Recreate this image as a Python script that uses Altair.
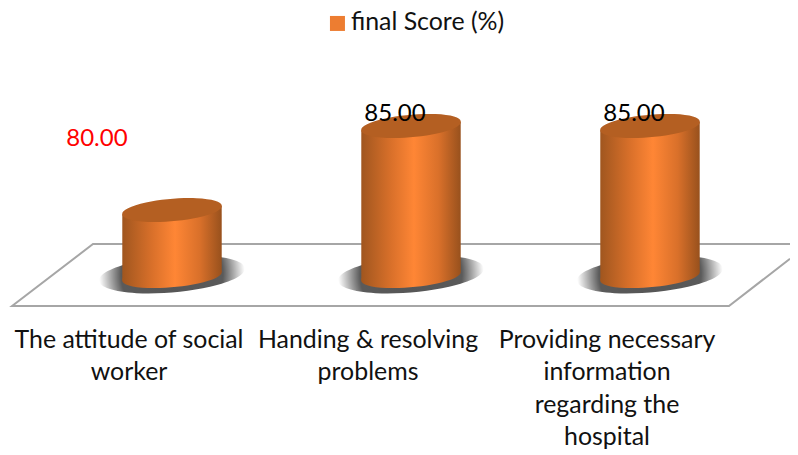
import altair as alt
import pandas as pd

categories = ["The attitude of social|worker", "Handing & resolving|problems",
              "Providing necessary|information|regarding the|hospital"]
scores = [80.0, 85.0, 85.0]
series_name = "final Score (%)"
baseline = 76.07
shadow_level = 76.16
tilt = 0.26
half_w = 0.208
positions = [0, 1, 2]

label_x = [-0.314, 0.933, 1.933]
label_y = [84.24, 85.74, 85.74]
label_txt = ["80.00", "85.00", "85.00"]

floor_x = [2.5858, 2.3305, -0.669, -0.3305, 2.5858]
floor_y = [77.1, 74.286, 74.286, 77.976, 77.976]

FONT = "Lato"
X_DOM = [-0.6862, 2.5858]
Y_DOM = [74.286, 92.024]
xq = alt.X("x:Q", scale=alt.Scale(domain=X_DOM, nice=False, zero=False), axis=None)
yq = alt.Y("y:Q", scale=alt.Scale(domain=Y_DOM, nice=False, zero=False), axis=None)

body_rows = []
for c, p, s in zip(categories, positions, scores):
    body_rows.append(dict(cat=c, x=p - half_w, y=s - tilt, y2=baseline - tilt))
    body_rows.append(dict(cat=c, x=p + half_w, y=s + tilt, y2=baseline + tilt))
body_df = pd.DataFrame(body_rows)
main_df = pd.DataFrame(dict(cat=categories, x=positions, y=scores, base=[baseline] * 3,
                            series=[series_name] * 3))
base_df = main_df.assign(y=[baseline] * 3)
shadow_df = main_df.assign(y=[shadow_level] * 3)
floor_df = pd.DataFrame(dict(x=floor_x, y=floor_y, o=range(len(floor_x))))

grad = alt.Gradient(gradient="linear", x1=0, x2=1, y1=0, y2=0, stops=[
    alt.GradientStop(color="#a0561f", offset=0),
    alt.GradientStop(color="#d9702a", offset=0.3),
    alt.GradientStop(color="#ff8635", offset=0.53),
    alt.GradientStop(color="#d9702a", offset=0.78),
    alt.GradientStop(color="#98511d", offset=1),
])
shadow_grad = alt.Gradient(gradient="radial", x1=0.5, y1=0.5, x2=0.5, y2=0.5, r1=0, r2=0.5, stops=[
    alt.GradientStop(color="#555555", offset=0),
    alt.GradientStop(color="#5a5a5a", offset=0.7),
    alt.GradientStop(color="#ffffff", offset=1),
])

ELLIPSE = "M-0.996,0.087 A1,0.22,-5,1,1,0.996,-0.087 A1,0.22,-5,1,1,-0.996,0.087 Z"
SHADOW = "M-0.996,0.087 A1,0.24,-5,1,1,0.996,-0.087 A1,0.24,-5,1,1,-0.996,0.087 Z"

floor = alt.Chart(floor_df).mark_line(color="#a6a6a6", strokeWidth=2).encode(x=xq, y=yq, order="o:Q")
shadow = alt.Chart(shadow_df).mark_point(shape=SHADOW, size=146 * 146, filled=True, opacity=1,
                                         fill=shadow_grad).encode(x=xq, y=yq)
legend_bar = alt.Chart(main_df).mark_bar(size=60, xOffset=43).encode(
    x=alt.X("cat:N", sort=categories, title=None,
            scale=alt.Scale(domain=categories, range=[1.5, 718.5], paddingInner=0, paddingOuter=0),
            axis=alt.Axis(domain=False, ticks=False, labelAngle=0, labelAlign="center", labelBaseline="top",
                          labelExpr="split(datum.label,'|')", labelFont=FONT, labelFontSize=24.9,
                          labelColor="#111111", labelPadding=21, labelLimit=400, labelLineHeight=32.5,
                          grid=False)),
    y=alt.Y("y:Q", scale=alt.Scale(domain=Y_DOM, nice=False, zero=False), axis=None),
    y2="base:Q",
    color=alt.Color("series:N", scale=alt.Scale(range=["#ed7d31"]),
                    legend=alt.Legend(title=None, orient="none", legendX=317, legendY=3, symbolType="square",
                                      symbolSize=225, symbolStrokeWidth=0, labelFont=FONT, labelFontSize=24.9,
                                      labelColor="#111111", labelLimit=400, labelOffset=1)),
)
bottom = alt.Chart(base_df).mark_point(shape=ELLIPSE, size=10000, filled=True, opacity=1,
                                       fill=grad).encode(x=xq, y=yq)
body = alt.Chart(body_df).mark_area(color=grad, opacity=1).encode(
    x=xq, y=yq, y2="y2:Q", detail="cat:N")
top = alt.Chart(main_df).mark_point(shape=ELLIPSE, size=10000, filled=True, opacity=1,
                                    fill="#b45f22").encode(x=xq, y=yq)
txt_df = pd.DataFrame(dict(x=label_x, y=label_y, t=label_txt))
t_red = alt.Chart(txt_df.iloc[:1]).mark_text(font=FONT, fontSize=24, color="#ff0000").encode(x=xq, y=yq, text="t:N")
t_blk = alt.Chart(txt_df.iloc[1:]).mark_text(font=FONT, fontSize=24, color="#000000").encode(x=xq, y=yq, text="t:N")

chart = alt.layer(floor, shadow, legend_bar, bottom, body, top, t_red, t_blk).resolve_scale(
    x="independent").properties(
    width=782, height=298, autosize=alt.AutoSizeParams(type="none"),
    padding={"left": 0, "top": 0, "right": 0, "bottom": 147},
).configure_view(stroke=None)

chart.save("out.html", embed_options={"renderer": "svg", "actions": False})
